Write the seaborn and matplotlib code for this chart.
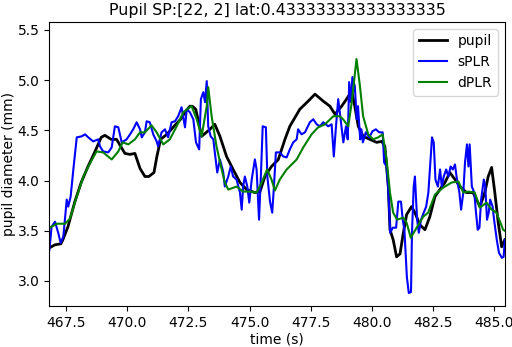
import matplotlib
matplotlib.use("Agg")
import matplotlib.pyplot as plt
import seaborn as sns

# values
pupil_t = [466.81, 467.04, 467.28, 467.36, 467.57, 467.84, 468.11, 468.39, 468.66, 468.93,
           469.08, 469.34, 469.56, 469.90, 470.11, 470.31, 470.52, 470.72, 470.88, 471.09,
           471.21, 471.36, 471.62, 471.91, 472.18, 472.39, 472.56, 472.66, 472.80, 472.89,
           473.04, 473.38, 473.58, 473.79, 474.06, 474.33, 474.61, 474.88, 475.22, 475.43,
           475.63, 475.90, 476.18, 476.45, 476.65, 477.06, 477.40, 477.68, 478.02, 478.29,
           478.50, 478.77, 478.97, 479.18, 479.31, 479.45, 479.65, 479.93, 480.20, 480.41,
           480.54, 480.68, 480.75, 480.88, 481.02, 481.16, 481.29, 481.43, 481.63, 481.77,
           481.97, 482.18, 482.38, 482.59, 482.79, 483.00, 483.20, 483.41, 483.61, 483.88,
           484.15, 484.43, 484.63, 484.77, 484.91, 485.04, 485.18, 485.32, 485.45]
pupil_v = [3.33, 3.36, 3.37, 3.41, 3.54, 3.78, 3.98, 4.14, 4.28, 4.43,
           4.45, 4.41, 4.41, 4.27, 4.26, 4.27, 4.12, 4.04, 4.04, 4.08,
           4.24, 4.41, 4.46, 4.54, 4.61, 4.69, 4.74, 4.74, 4.71, 4.61,
           4.44, 4.51, 4.56, 4.44, 4.24, 4.11, 3.98, 3.91, 3.88, 3.89,
           4.04, 4.14, 4.21, 4.41, 4.54, 4.71, 4.79, 4.86, 4.79, 4.74,
           4.66, 4.74, 4.81, 4.89, 4.74, 4.54, 4.44, 4.41, 4.38, 4.39,
           4.34, 3.94, 3.51, 3.41, 3.24, 3.27, 3.47, 3.66, 3.74, 3.68,
           3.56, 3.51, 3.64, 3.84, 3.91, 3.98, 4.08, 4.01, 3.94, 3.88,
           3.88, 3.74, 3.88, 4.04, 4.13, 3.88, 3.58, 3.34, 3.41]

splr_t = [466.81, 466.90, 467.04, 467.17, 467.27, 467.38, 467.52, 467.58, 467.68, 467.79,
          467.93, 468.13, 468.27, 468.40, 468.60, 468.81, 468.88, 469.01, 469.22, 469.36,
          469.49, 469.63, 469.77, 469.97, 470.11, 470.24, 470.38, 470.52, 470.59, 470.72,
          470.79, 470.92, 471.06, 471.20, 471.26, 471.40, 471.54, 471.67, 471.81, 471.95,
          472.08, 472.22, 472.36, 472.43, 472.56, 472.70, 472.81, 472.94, 473.01, 473.11,
          473.18, 473.25, 473.31, 473.41, 473.52, 473.58, 473.68, 473.79, 473.92, 473.99,
          474.13, 474.23, 474.33, 474.47, 474.61, 474.68, 474.74, 474.81, 474.91, 474.99,
          475.09, 475.22, 475.29, 475.39, 475.46, 475.54, 475.67, 475.73, 475.84, 475.93,
          476.00, 476.08, 476.24, 476.38, 476.52, 476.65, 476.79, 476.93, 476.99, 477.13,
          477.27, 477.47, 477.61, 477.75, 477.88, 478.02, 478.22, 478.36, 478.45, 478.54,
          478.63, 478.73, 478.84, 478.95, 479.02, 479.08, 479.15, 479.21, 479.31, 479.39,
          479.44, 479.53, 479.58, 479.64, 479.76, 479.90, 480.03, 480.17, 480.31, 480.45,
          480.51, 480.61, 480.68, 480.76, 480.86, 481.00, 481.09, 481.20, 481.27, 481.34,
          481.44, 481.52, 481.61, 481.65, 481.72, 481.77, 481.86, 481.93, 482.02, 482.13,
          482.23, 482.32, 482.40, 482.47, 482.54, 482.61, 482.71, 482.80, 482.87, 482.95,
          483.05, 483.14, 483.23, 483.32, 483.41, 483.49, 483.59, 483.66, 483.75, 483.82,
          483.90, 483.96, 484.01, 484.10, 484.20, 484.27, 484.34, 484.41, 484.48, 484.59,
          484.65, 484.72, 484.79, 484.85, 484.95, 485.01, 485.12, 485.21, 485.33, 485.40,
          485.45]
splr_v = [3.31, 3.54, 3.59, 3.48, 3.38, 3.44, 3.81, 3.74, 3.84, 4.11,
          4.43, 4.44, 4.46, 4.43, 4.39, 4.41, 4.34, 4.29, 4.28, 4.33,
          4.54, 4.53, 4.38, 4.41, 4.46, 4.51, 4.58, 4.51, 4.43, 4.48,
          4.59, 4.58, 4.46, 4.39, 4.34, 4.48, 4.51, 4.43, 4.58, 4.59,
          4.64, 4.73, 4.53, 4.71, 4.68, 4.61, 4.38, 4.31, 4.81, 4.88,
          4.78, 4.99, 4.54, 4.44, 4.41, 4.28, 4.08, 4.21, 4.09, 3.94,
          4.04, 4.14, 4.04, 4.01, 3.88, 3.71, 3.94, 4.04, 3.94, 3.78,
          4.01, 4.21, 4.11, 3.61, 4.01, 4.54, 4.53, 4.04, 3.79, 3.68,
          3.94, 4.28, 4.28, 4.24, 4.23, 4.31, 4.38, 4.41, 4.51, 4.46,
          4.48, 4.58, 4.61, 4.56, 4.54, 4.58, 4.54, 4.56, 4.24, 4.54,
          4.81, 4.61, 4.38, 4.54, 4.41, 4.98, 4.78, 5.03, 4.94, 4.61,
          4.74, 4.41, 4.51, 4.38, 4.48, 4.43, 4.49, 4.51, 4.48, 4.48,
          4.18, 4.14, 3.91, 3.48, 3.53, 3.53, 3.79, 3.79, 3.61, 3.51,
          3.04, 2.88, 2.89, 3.48, 3.94, 4.04, 3.61, 3.48, 3.61, 3.68,
          3.74, 3.88, 4.18, 4.43, 4.38, 4.01, 3.94, 4.11, 3.94, 4.04,
          4.11, 4.04, 4.14, 4.11, 4.16, 4.01, 3.88, 3.71, 3.88, 4.18,
          4.36, 4.14, 4.36, 3.94, 3.88, 3.68, 3.51, 3.53, 3.81, 4.01,
          3.94, 3.61, 3.68, 3.81, 3.74, 3.61, 3.41, 3.28, 3.23, 3.24,
          3.41]

dplr_t = [466.83, 467.11, 467.45, 467.65, 467.93, 468.20, 468.47, 468.74, 469.01, 469.36,
          469.63, 469.81, 470.04, 470.31, 470.52, 470.72, 470.99, 471.20, 471.47, 471.74,
          472.02, 472.29, 472.56, 472.63, 472.84, 473.04, 473.25, 473.31, 473.45, 473.65,
          473.86, 473.99, 474.13, 474.47, 474.74, 475.02, 475.29, 475.50, 475.72, 475.90,
          476.04, 476.24, 476.52, 476.93, 477.20, 477.54, 477.81, 478.09, 478.43, 478.70,
          478.83, 479.04, 479.18, 479.38, 479.52, 479.65, 479.86, 480.06, 480.27, 480.45,
          480.61, 480.75, 480.88, 481.04, 481.29, 481.43, 481.60, 481.84, 482.11, 482.31,
          482.59, 482.93, 483.27, 483.55, 483.75, 483.95, 484.22, 484.43, 484.70, 484.91,
          485.11, 485.38, 485.45]
dplr_v = [3.53, 3.57, 3.57, 3.62, 3.84, 4.04, 4.17, 4.29, 4.28, 4.21,
          4.29, 4.38, 4.36, 4.41, 4.48, 4.48, 4.55, 4.48, 4.36, 4.41,
          4.54, 4.68, 4.73, 4.74, 4.61, 4.44, 4.74, 4.93, 4.64, 4.34,
          4.11, 3.98, 3.91, 3.94, 3.89, 3.89, 3.88, 3.98, 4.11, 4.01,
          3.90, 4.01, 4.11, 4.21, 4.33, 4.46, 4.53, 4.56, 4.64, 4.64,
          4.61, 4.54, 4.77, 5.21, 4.94, 4.64, 4.46, 4.41, 4.43, 4.46,
          4.21, 3.88, 3.68, 3.61, 3.63, 3.58, 3.43, 3.53, 3.64, 3.68,
          3.86, 3.93, 3.98, 3.99, 3.88, 3.89, 3.88, 3.73, 3.78, 3.71,
          3.68, 3.51, 3.50]

title = "Pupil SP:[22, 2] lat:0.43333333333333335"

fig, ax = plt.subplots(figsize=(5.12, 3.47), dpi=100)
fig.subplots_adjust(left=0.096, right=0.986, top=0.937, bottom=0.118)

sns.lineplot(x=pupil_t, y=pupil_v, ax=ax, color="black", linewidth=2.0,
             sort=False, estimator=None, label="pupil")
sns.lineplot(x=splr_t, y=splr_v, ax=ax, color="blue", linewidth=1.5,
             sort=False, estimator=None, label="sPLR")
sns.lineplot(x=dplr_t, y=dplr_v, ax=ax, color="green", linewidth=1.5,
             sort=False, estimator=None, label="dPLR")

ax.set_xlim(466.8, 485.45)
ax.set_ylim(2.75, 5.58)
ax.set_xticks([467.5, 470.0, 472.5, 475.0, 477.5, 480.0, 482.5, 485.0])
ax.set_title(title, fontsize=11.4, pad=5)
ax.set_xlabel("time (s)", labelpad=2)
ax.set_ylabel("pupil diameter (mm)", labelpad=1)
ax.legend(loc="upper right")

fig.savefig("out.png", dpi=100)
plt.close(fig)
